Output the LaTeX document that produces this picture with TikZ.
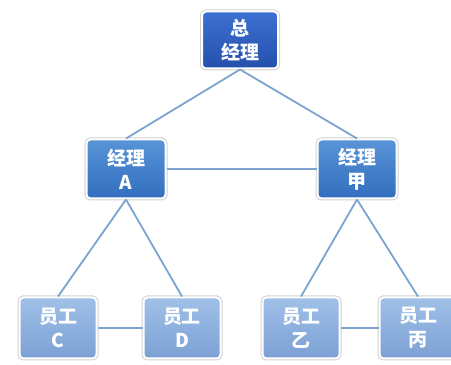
\documentclass[tikz,border=0pt]{standalone}
\usepackage{fontspec}
\newfontfamily\cjk{Noto Sans CJK SC}
\tikzset{
  box/.style={rounded corners=4pt, draw=white, line width=2pt,
    preaction={draw=black!18, line width=4pt},
    text=white, font=\cjk\bfseries\fontsize{19}{24}\selectfont, align=center,
    inner sep=0pt},
  boss/.style={box, minimum width=76pt, minimum height=57pt,
    top color={rgb,255:red,62;green,112;blue,210}, bottom color={rgb,255:red,36;green,80;blue,172}},
  manager/.style={box, minimum width=79pt, minimum height=59pt,
    top color={rgb,255:red,88;green,148;blue,214}, bottom color={rgb,255:red,50;green,110;blue,190}},
  staff/.style={box, minimum width=77pt, minimum height=61pt,
    top color={rgb,255:red,160;green,192;blue,232}, bottom color={rgb,255:red,124;green,160;blue,212}},
  link/.style={draw={rgb,255:red,124;green,163;blue,208}, line width=1.8pt}
}
\begin{document}
\begin{tikzpicture}[x=1pt,y=1pt]
    \useasboundingbox (0,0) rectangle (451,365);
    \node[boss] (gm) at (240,325) {总\\经理};
    \node[manager] (ma) at (126,196) {经理\\A};
    \node[manager] (mj) at (357,196) {经理\\甲};
    \node[staff] (sc) at (58,37) {员工\\C};
    \node[staff] (sd) at (182,37) {员工\\D};
    \node[staff] (sy) at (301,37) {员工\\乙};
    \node[staff] (sb) at (418,37) {员工\\丙};
    \draw[link] (gm.south) -- (ma.north);
    \draw[link] (gm.south) -- (mj.north);
    \draw[link] (ma) -- (mj);
    \draw[link] (ma.south) -- (sc.north);
    \draw[link] (ma.south) -- (sd.north);
    \draw[link] (mj.south) -- (sy.north);
    \draw[link] (mj.south) -- (sb.north);
    \draw[link] (sc) -- (sd);
    \draw[link] (sy) -- (sb);
\end{tikzpicture}
\end{document}
